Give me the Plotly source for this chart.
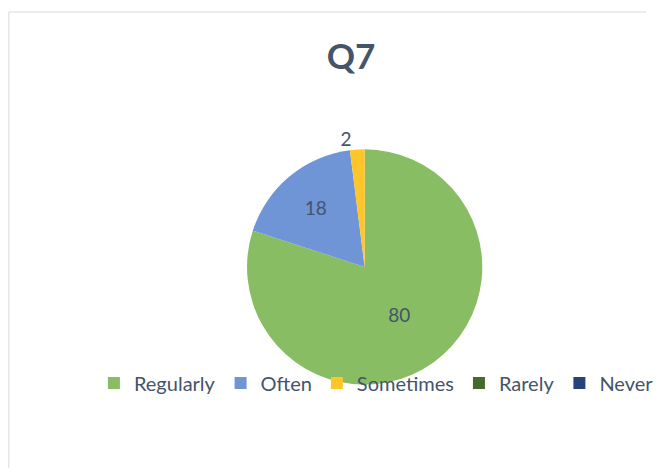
import plotly.graph_objects as go

categories = ["Regularly", "Often", "Sometimes", "Rarely", "Never"]
values = [80, 18, 2, 0, 0]
colors = ["#88bd63", "#7095d6", "#ffc62a", "#46692e", "#264478"]
text_positions = ["inside", "inside", "outside", "inside", "inside"]
title_text = "Q7"

W, H = 659, 468
cx, cy, r = 372, 267, 120

fig = go.Figure()
fig.add_trace(go.Pie(
    labels=categories,
    values=values,
    marker=dict(colors=colors, line=dict(color="white", width=0)),
    sort=False,
    direction="clockwise",
    rotation=0,
    textinfo="value",
    textposition=text_positions,
    insidetextorientation="horizontal",
    textfont=dict(family="Lato", size=19, color="#44546a"),
    outsidetextfont=dict(family="Lato", size=19, color="#44546a"),
    domain=dict(x=[(cx - r) / W, (cx + r) / W], y=[(H - cy - r) / H, (H - cy + r) / H]),
    hoverinfo="label+value",
    showlegend=True,
))

fig.update_layout(
    width=W, height=H,
    margin=dict(l=0, r=0, t=0, b=0),
    paper_bgcolor="white",
    plot_bgcolor="white",
    title=dict(text="<b>" + title_text + "</b>", x=351 / W, xanchor="center", y=1 - 57 / H, yanchor="middle",
               font=dict(family="Lato", size=35, color="#44546a")),
    legend=dict(orientation="h", x=384 / W, xanchor="center", y=1 - 383 / H, yanchor="middle",
                font=dict(family="Lato", size=20, color="#44546a"), bgcolor="rgba(0,0,0,0)",
                itemclick=False, itemdoubleclick=False),
    shapes=[
        dict(type="line", xref="paper", yref="paper", x0=9 / W, x1=1, y0=1 - 12 / H, y1=1 - 12 / H,
             line=dict(color="#d9d9d9", width=1)),
        dict(type="line", xref="paper", yref="paper", x0=9 / W, x1=9 / W, y0=0, y1=1 - 12 / H,
             line=dict(color="#d9d9d9", width=1)),
    ],
)

fig.write_html("out.html", config={"displayModeBar": False},
               post_script="document.body.style.margin='0';document.body.style.padding='0';")
